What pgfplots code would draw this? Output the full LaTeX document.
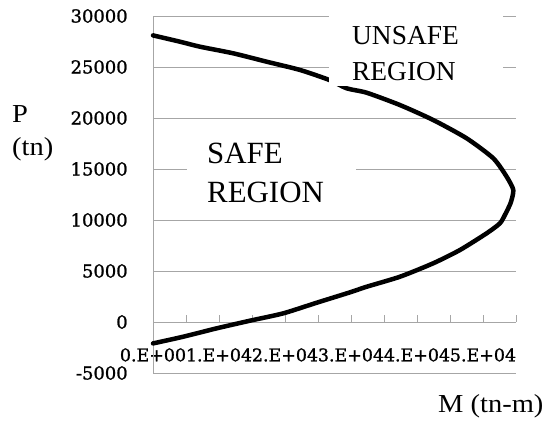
\documentclass[border=0pt]{standalone}
\usepackage{pgfplots}
\pgfplotsset{compat=1.18}
\usepackage{fontspec}
\setmainfont{Liberation Serif}
\newfontfamily\tickfont[FakeBold=1.2]{DejaVu Serif}
\newfontfamily\labelfont[FakeStretch=1.1]{Liberation Serif}
\definecolor{gridgray}{RGB}{166,166,166}

\pgfplotstableread{
M      P
0      28100
4090   27480
7120   26990
12170  26340
17220  25520
22270  24710
26710  23730
29340  22910
32370  22480
37420  21270
42470  19800
47520  18010
51560  16050
53580  14250
54590  12940
54200  11700
53400  10600
52570  9680
50560  8700
46510  7060
42470  5760
37420  4440
32380  3460
29850  2910
24800  1890
19740  850
14700  130
9650   -620
4590   -1440
0      -2100
}\interaction

\begin{document}
\begin{tikzpicture}
% M axis crossing at P = 0; its 7bp tall grid gives the upward tick marks
\begin{axis}[
  name=maxis,
  scale only axis, width=363bp, height=7bp,
  xmin=0, xmax=55000, ymin=0, ymax=1,
  at={(0bp,51bp)}, anchor=south west,
  axis x line=bottom, axis y line=none,
  axis line style={-, draw=gridgray, line width=1bp},
  scaled ticks=false,
  xtick={0,5000,...,55000},
  xticklabels={0.E+00,,1.E+04,,2.E+04,,3.E+04,,4.E+04,,5.E+04,},
  xmajorgrids, grid style={draw=gridgray, line width=1bp},
  xtick style={draw=none},
  xticklabel style={font=\tickfont\fontsize{17.5}{17.5}\selectfont, anchor=north, inner sep=0pt, yshift=-24bp},
]
\end{axis}
% main axis: P grid, y axis and the interaction curve
\begin{axis}[
  scale only axis, width=363bp, height=357bp,
  at={(0bp,0bp)}, anchor=south west,
  xmin=0, xmax=55000, ymin=-5000, ymax=30000,
  axis x line=none, axis y line=left,
  axis line style={-, draw=gridgray, line width=1bp},
  scaled ticks=false,
  ytick={-5000,0,...,30000},
  yticklabels={-5000,0,5000,10000,15000,20000,25000,30000},
  ymajorgrids, grid style={draw=gridgray, line width=1bp},
  ytick style={draw=none},
  yticklabel style={font=\tickfont\fontsize{18}{18}\selectfont, anchor=east, inner sep=0pt, xshift=-23bp},
  clip=false,
]
\addplot[black, line width=4.5bp, line join=round, line cap=round, smooth, tension=0.4] table[x=M, y=P] {\interaction};
\end{axis}
\begin{scope}[shift={(-153bp,373bp)}, x=1bp, y=-1bp]
  % label boxes that sit over the grid
  \fill[white] (187,128) rectangle (356,210);
  \fill[white] (329,4) rectangle (503,86);
  \node[anchor=base west, inner sep=0pt, font=\fontsize{31}{31}\selectfont] at (207,163) {SAFE};
  \node[anchor=base west, inner sep=0pt, font=\fontsize{31}{31}\selectfont] at (207,202) {REGION};
  \node[anchor=base west, inner sep=0pt, font=\fontsize{27.5}{27.5}\selectfont] at (352,44) {UNSAFE};
  \node[anchor=base west, inner sep=0pt, font=\fontsize{27.5}{27.5}\selectfont] at (352,80) {REGION};
  \node[anchor=base west, inner sep=0pt, font=\labelfont\fontsize{26}{26}\selectfont] at (12,122) {P};
  \node[anchor=base west, inner sep=0pt, font=\labelfont\fontsize{26}{26}\selectfont] at (12,155) {(tn)};
  \node[anchor=base west, inner sep=0pt, font=\labelfont\fontsize{26}{26}\selectfont] at (438,412) {M (tn-m)};
  \pgfresetboundingbox
  \path[use as bounding box] (0,0) rectangle (543,421);
\end{scope}
\end{tikzpicture}
\end{document}
